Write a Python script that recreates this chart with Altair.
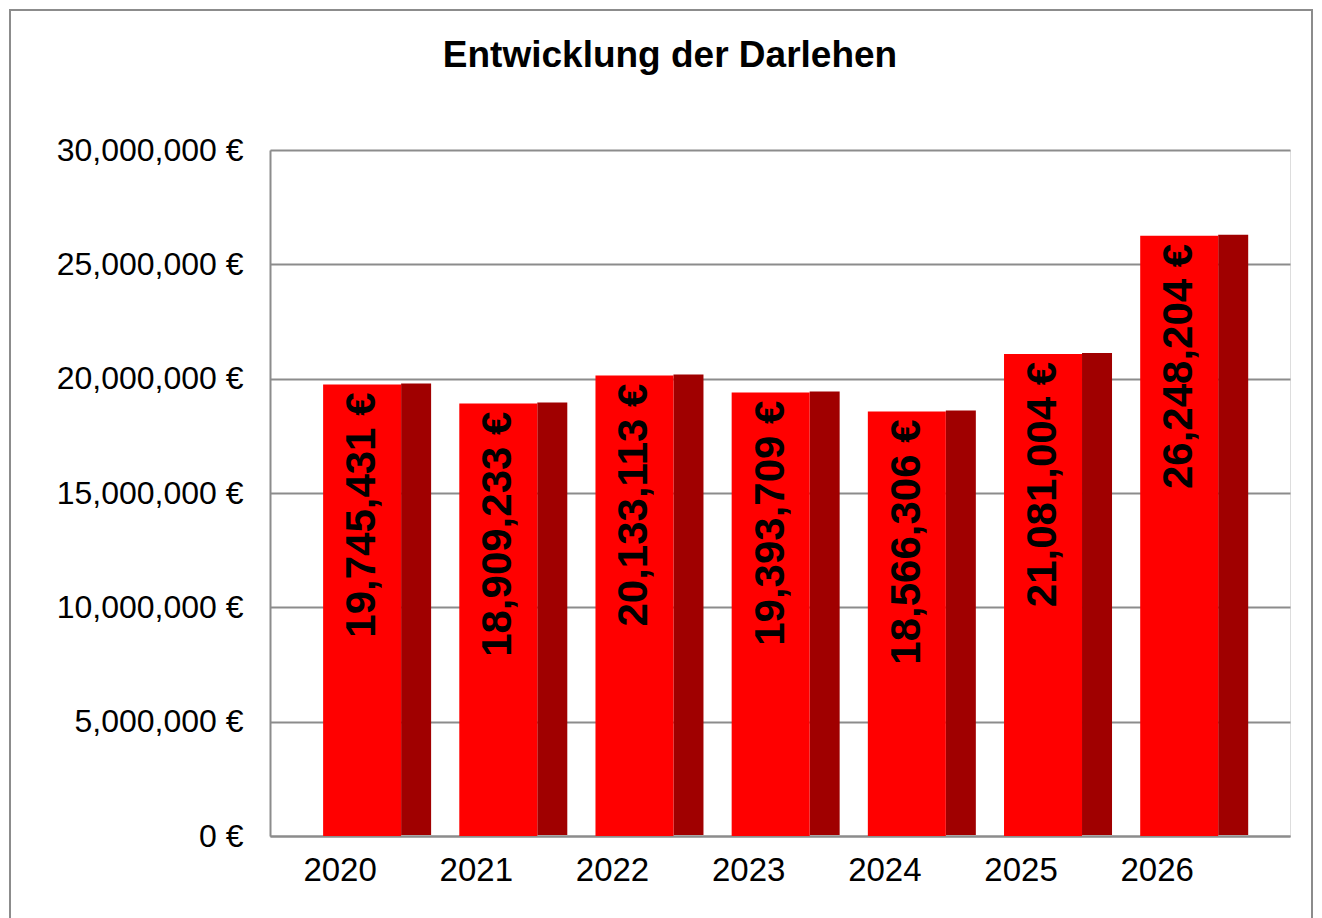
import altair as alt
import pandas as pd

years = ["2020", "2021", "2022", "2023", "2024", "2025", "2026"]
values = [19745431, 18909233, 20133113, 19393709, 18566306, 21081004, 26248204]
y_ticks = [0, 5000000, 10000000, 15000000, 20000000, 25000000, 30000000]

df = pd.DataFrame({"year": years, "value": values})

FONT = "Liberation Sans"
GRID = "#8c8c8c"

x_enc = alt.X(
    "year:N",
    sort=years,
    title=None,
    scale=alt.Scale(paddingOuter=0.245, paddingInner=0.0, align=0.36),
    axis=alt.Axis(
        labelAngle=0, labelFontSize=33, labelFont=FONT, labelColor="black",
        labelPadding=18, labelOffset=-22, ticks=False,
        domainColor=GRID, domainWidth=2,
    ),
)
y_enc = alt.Y(
    "value:Q",
    title=None,
    scale=alt.Scale(domain=[0, 30000000], nice=False),
    axis=alt.Axis(
        values=y_ticks, labelExpr="format(datum.value, ',') + ' €'",
        labelFontSize=32, labelFont=FONT, labelColor="black", labelPadding=27,
        labelLimit=400,
        ticks=False, grid=True, gridColor=GRID, gridWidth=2,
        domainColor=GRID, domainWidth=2,
    ),
)

base = alt.Chart(df)

border = alt.Chart(pd.DataFrame({"k": [1]})).mark_rect(
    fill="transparent", stroke="#8c8c8c", strokeWidth=2
).encode(
    x=alt.value(-260), x2=alt.value(1042), y=alt.value(-140), y2=alt.value(790)
)

side = base.mark_bar(color="#a00000", size=30, xOffset=54, yOffset=-1).encode(x=x_enc, y=y_enc)
front = base.mark_bar(color="#ff0000", size=78).encode(x=x_enc, y=y_enc)
labels = base.mark_text(
    angle=270, align="right", baseline="middle", dx=-8, fontSize=42,
    fontWeight="bold", font=FONT, color="black",
).encode(
    x=x_enc, y=y_enc,
    text=alt.Text("label:N"),
).transform_calculate(label="format(datum.value, ',') + ' €'")

chart = alt.layer(border, side, front, labels).properties(
    width=1020,
    height=686,
    autosize=alt.AutoSizeParams(type="none"),
    padding={"left": 262, "top": 142, "right": 24, "bottom": 82},
    title=alt.TitleParams(
        "Entwicklung der Darlehen", font=FONT, fontSize=37, fontWeight="bold",
        color="black", anchor="middle", dx=-110, offset=-66,
    ),
).configure_view(strokeWidth=0).configure(background="white")

chart.save("out.html", embed_options={"renderer": "svg", "actions": False})
